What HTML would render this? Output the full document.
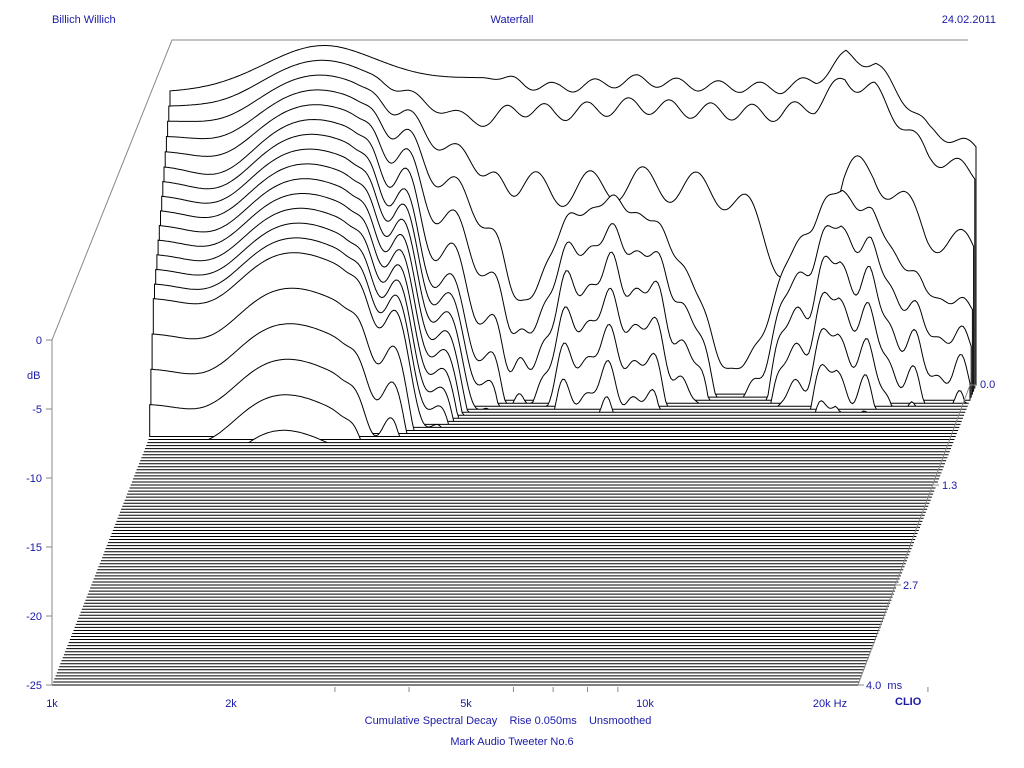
<!DOCTYPE html>
<html><head><meta charset="utf-8"><style>
html,body{margin:0;padding:0;background:#fff}
svg{display:block}
text{font-family:"Liberation Sans",sans-serif;font-size:11px;fill:#1a1aa8;white-space:pre}
</style></head><body>
<svg id="s" width="1024" height="768" viewBox="0 0 1024 768">
<g id="slices"></g>
<g stroke="#888" stroke-width="1" fill="none">
<polyline points="52,685 52,340 172,40 968,40"/>
<line x1="858" y1="685" x2="970" y2="385"/>
<line x1="46" y1="340" x2="52" y2="340"/><line x1="46" y1="409" x2="52" y2="409"/>
<line x1="46" y1="478" x2="52" y2="478"/><line x1="46" y1="547" x2="52" y2="547"/>
<line x1="46" y1="616" x2="52" y2="616"/><line x1="46" y1="685" x2="52" y2="685"/>
<line x1="970" y1="385" x2="976" y2="385"/><line x1="933" y1="485" x2="939" y2="485"/>
<line x1="895" y1="585" x2="901" y2="585"/><line x1="858" y1="685" x2="864" y2="685"/>
</g>
<g id="ticks" stroke="#888"></g>
<text x="52" y="23">Billich Willich</text>
<text x="512" y="23" text-anchor="middle">Waterfall</text>
<text x="996" y="23" text-anchor="end">24.02.2011</text>
<text x="42" y="344" text-anchor="end">0</text>
<text x="27" y="379">dB</text>
<text x="42" y="413" text-anchor="end">-5</text>
<text x="42" y="482" text-anchor="end">-10</text>
<text x="42" y="551" text-anchor="end">-15</text>
<text x="42" y="620" text-anchor="end">-20</text>
<text x="42" y="689" text-anchor="end">-25</text>
<text x="980" y="388">0.0</text>
<text x="942" y="489">1.3</text>
<text x="903" y="589">2.7</text>
<text x="866" y="689">4.0  ms</text>
<text x="52" y="707" text-anchor="middle">1k</text>
<text x="231" y="707" text-anchor="middle">2k</text>
<text x="466" y="707" text-anchor="middle">5k</text>
<text x="645" y="707" text-anchor="middle">10k</text>
<text x="830" y="707" text-anchor="middle">20k Hz</text>
<text x="895" y="705" style="font-weight:bold">CLIO</text>
<text x="508" y="724" text-anchor="middle">Cumulative Spectral Decay    Rise 0.050ms    Unsmoothed</text>
<text x="512" y="745" text-anchor="middle">Mark Audio Tweeter No.6</text>
</svg>
<script>
(function(){
var NS="http://www.w3.org/2000/svg";
var g=document.getElementById('slices');
var tk=document.getElementById('ticks');
[3,4,6,7,8,9,30].forEach(function(f){var x=52+Math.log10(f)*593;var l=document.createElementNS(NS,'line');l.setAttribute('x1',x);l.setAttribute('x2',x);l.setAttribute('y1',687);l.setAttribute('y2',692);tk.appendChild(l);});
var R=[[0,-3.8],[0.2,-0.4],[0.28,-0.4],[0.42,-2.2],[0.55,-2.8],[0.65,-3.5],[0.79,-2.9],[0.89,-3.3],[1.03,-3.5],[1.09,-2.9],[1.14,-1.1],[1.19,-1.8],[1.28,-6.5],[1.37,-8]];
function interp(t,u){if(u<=t[0][0])return t[0][1];for(var i=1;i<t.length;i++){if(u<=t[i][0]){var a=t[i-1],b=t[i];return a[1]+(b[1]-a[1])*(u-a[0])/(b[0]-a[0]);}}return t[t.length-1][1];}
function gs(u,c,w){return Math.exp(-(u-c)*(u-c)/(2*w*w));}
function smooth(a,b,u){var t=(u-a)/(b-a);if(t<0)t=0;if(t>1)t=1;return t*t*(3-2*t);}
var N=100,S=13.8;
for(var k=0;k<N;k++){
  var f=1-k/(N-1);
  var dx=118*f, dy=-300*f;
  var base=685+dy;
  var pts=[];
  var x0=52+dx;
  pts.push(x0.toFixed(1)+','+base.toFixed(1));
  for(var px=0;px<=806;px+=2){
    var u=px/593;
    var L=-25;
    if(k<=19){
      var r=interp(R,u);
      var m=Math.min(1,k/5);
      var ext=Math.max(0,k-14)*1.5;
      var lowL=-3.8-0.85*k-ext+3.4*gs(u,0.26-0.002*k,0.1)
        +smooth(0.3,0.55,u)*(1-Math.min(9,1.6*k))
        +m*(-1.5*gs(u,0.1,0.05)+1.8*Math.sin(u*80)*smooth(0.32,0.4,u))
        -smooth(0.4,0.6,u)*0.8*k;
      var hiL;
      if(k===0)hiL=r+0.4*Math.sin(u*90);
      else if(k===1)hiL=r-1.6+0.6*Math.sin(u*90+1);
      else if(k===2)hiL=r-7-6*gs(u,1.06,0.05)+1.2*Math.sin(u*70+2);
      else{
        hiL=r-11-2.4*(k-3)+3*gs(u,0.74,0.07)+2*gs(u,1.12,0.05)-9*gs(u,0.96,0.05)-5*gs(u,0.6,0.03)
            +Math.min(1,(k-2)/3)*(1.1*Math.sin(u*85+0.5)+0.6*Math.sin(u*160));
      }
      var w=smooth(0.52,0.6,u);
      L=lowL*(1-w)+hiL*w;
    }
    if(L<-25)L=-25; if(L>0)L=0;
    var y=base-(L+25)*S;
    pts.push((x0+px).toFixed(1)+','+y.toFixed(1));
  }
  pts.push((x0+806).toFixed(1)+','+base.toFixed(1));
  var p=document.createElementNS(NS,'polygon');
  p.setAttribute('points',pts.join(' '));
  p.setAttribute('fill','#fff');
  p.setAttribute('stroke','#000');
  p.setAttribute('stroke-width','1');
  g.appendChild(p);
}
})();
</script>
</body></html>
